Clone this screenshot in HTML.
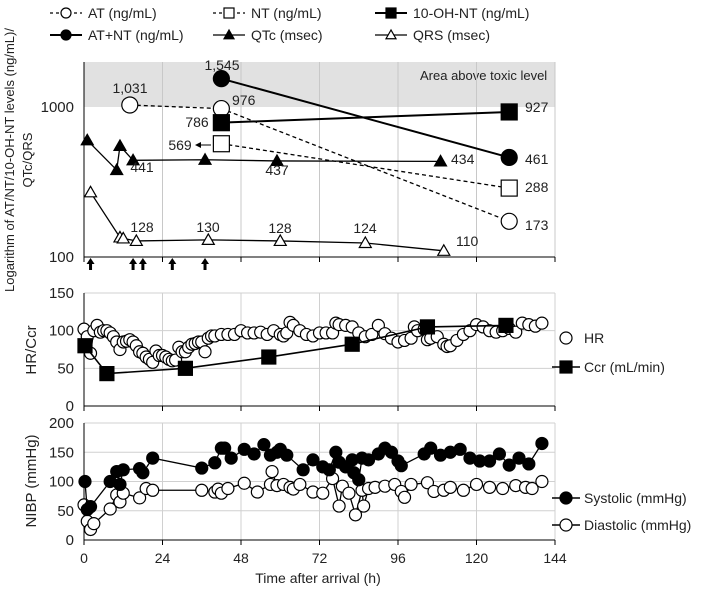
<!DOCTYPE html>
<html><head><meta charset="utf-8"><style>
body{margin:0;background:#fff;}
svg{display:block;font-family:"Liberation Sans",sans-serif;}
</style></head><body>
<svg id="c" width="709" height="592" xmlns="http://www.w3.org/2000/svg"></svg>
<script>
const hours=[0,24,48,72,96,120,144];
const atH=[14,42,130], atV=[1031,976,173];
const ntH=[42,130], ntV=[569,288];
const ohH=[42,130], ohV=[786,927];
const sumH=[42,130], sumV=[1545,461];
const qtcH=[1,10,11,15,37,59,109], qtcV=[600,380,550,441,445,437,434];
const qrsH=[2,11,12,16,38,60,86,110], qrsV=[270,135,133,128,130,128,124,110];
const arrowH=[2,15,18,27,37];
const ccrH=[0.3,7,31,56.5,82,105,129], ccrV=[80,43,50,65,82,105,107];
const hrH=[0,1,2,3,4,5,6,7,8,9,10,11,12,13,14,15,16,17,18,19,20,21,22,23,24,25,26,27,28,29,30,31,32,33,34,35,36,37,38,39,40,42,44,46,48,50,52,54,56,58,60,61,62,63,64,66,68,70,72,74,76,77,78,80,82,84,86,88,90,92,94,96,98,100,101,102,104,105,106,108,110,111,112,114,116,118,120,122,124,126,128,130,132,134,136,138,140];
const hrV=[102,92,70,100,107,98,100,100,97,92,85,75,85,86,88,85,80,72,70,65,62,58,73,67,67,65,62,60,61,78,72,72,78,82,83,85,85,72,90,93,93,95,95,95,100,97,97,98,95,100,95,93,97,111,107,100,95,93,97,97,97,110,108,107,105,97,92,95,107,96,90,85,87,90,105,100,102,88,90,92,82,79,80,87,95,100,108,105,100,98,100,103,98,110,108,106,110];
const sysH=[0.3,1,2,8,10,11,12,17,18,21,36,40,42,43,45,49,52,55,57,59,60,62,67,70,73,75,77,78,80,82,82.5,84,85,87,90,92,94,96,97,104,106,109,112,115,118,121,124,127,130,133,136,140];
const sysV=[100,52,57,100,117,95,120,122,115,140,123,132,157,157,140,155,147,163,145,150,155,145,120,137,125,120,150,133,125,137,115,103,140,137,147,157,150,135,127,147,157,145,150,155,140,135,135,147,128,140,130,165];
const diaH=[0,1,2,3,8,10,11,12,17,19,21,36,40,41,42,44,49,53,57,57.5,59,61,63,64,66,70,73,76,78,79,81,83,85,85.5,87,89,92,95,97,98,100,105,107,110,112,116,120,124,128,132,135,137,140];
const diaV=[60,32,18,28,53,77,65,80,72,88,85,85,82,87,80,88,97,82,95,117,93,95,90,87,95,82,80,105,58,92,80,43,85,58,88,90,92,95,83,73,95,98,83,85,90,85,95,90,88,93,90,88,100];
const yTopTicks=[100,1000], yMidTicks=[0,50,100,150], yBotTicks=[0,50,100,150,200];

const NS="http://www.w3.org/2000/svg", svg=document.getElementById('c');
function el(t,a,p){const e=document.createElementNS(NS,t);for(const k in a)e.setAttribute(k,a[k]);(p||svg).appendChild(e);return e;}
function tx(s,x,y,o,p){const e=el('text',Object.assign({x:x,y:y,'font-size':13,fill:'#222'},o||{}),p);e.textContent=s;return e;}
const X0=84,X1=555;
const x=h=>X0+h*(X1-X0)/144;
const yT=v=>257-150*(Math.log10(v)-2);
const yM=v=>406-v*(406-293)/150;
const yB=v=>540-v*(540-423)/200;

function marker(g,type,cx,cy,s,fill){
  let e;
  if(type==='c')e=el('circle',{cx:cx,cy:cy,r:s,fill:fill,stroke:'#000','stroke-width':1.2},g);
  else if(type==='s')e=el('rect',{x:cx-s,y:cy-s,width:2*s,height:2*s,fill:fill,stroke:'#000','stroke-width':1.2},g);
  else e=el('polygon',{points:`${cx},${cy-s} ${cx-s},${cy+s*0.75} ${cx+s},${cy+s*0.75}`,fill:fill,stroke:'#000','stroke-width':1.2},g);
  return e;
}
function series(name,H,V,yf,type,s,fill,dash,lw){
  const g=el('g',{});
  
  
  el('polyline',{points:H.map((h,i)=>x(h)+','+yf(V[i])).join(' '),fill:'none',stroke:'#000','stroke-width':lw||1.3,'stroke-dasharray':dash||''},g);
  H.forEach((h,i)=>{const m=marker(g,type,x(h),yf(V[i]),s,fill);
    
    });
}

// top panel
el('rect',{x:X0,y:62,width:X1-X0,height:yT(1000)-62,fill:'#e1e1e1'});
tx('Area above toxic level',420,80,{'font-size':13});
hours.slice(1).forEach(h=>el('line',{x1:x(h),y1:62,x2:x(h),y2:257,stroke:'#c8c8c8'}));
el('line',{x1:X0,y1:62,x2:X0,y2:257,stroke:'#000'});
el('line',{x1:X0,y1:257,x2:X1,y2:257,stroke:'#000'});
hours.forEach(h=>el('line',{x1:x(h),y1:257,x2:x(h),y2:262,stroke:'#000'}));
yTopTicks.forEach(v=>tx(String(v),74,yT(v)+5,{'text-anchor':'end','font-size':15}));
arrowH.forEach(h=>{const g=el('g',{});
 el('line',{x1:x(h),y1:270,x2:x(h),y2:262,stroke:'#000','stroke-width':3},g);
 el('polygon',{points:`${x(h)-4},${264} ${x(h)+4},${264} ${x(h)},${258}`,fill:'#000'},g);});
series('qrs-series',qrsH,qrsV,yT,'t',6,'#fff');
series('qtc-series',qtcH,qtcV,yT,'t',6,'#000');
series('at-series',atH,atV,yT,'c',8,'#fff','4,3');
series('nt-series',ntH,ntV,yT,'s',8,'#fff','4,3');
series('oh-nt-series',ohH,ohV,yT,'s',8,'#000','',2);
series('at-nt-series',sumH,sumV,yT,'c',8,'#000','',2);
const ann=[['1,031',130,93,'middle'],['976',232,105,'start'],['1,545',222,70,'middle'],['786',197,127,'middle'],['927',525,112,'start'],['461',525,164,'start'],['288',525,192,'start'],['173',525,230,'start'],['441',142,172,'middle'],['437',277,175,'middle'],['434',451,164,'start'],['128',142,232,'middle'],['130',208,232,'middle'],['128',280,233,'middle'],['124',365,233,'middle'],['110',456,246,'start']];
ann.forEach(a=>{const t=tx(a[0],a[1],a[2],{'text-anchor':a[3],'font-size':14});});
tx('569',180,150,{'text-anchor':'middle','font-size':14});
el('line',{x1:200,y1:145,x2:211,y2:145,stroke:'#000'});
el('polygon',{points:'195,145 201,142 201,148',fill:'#000'});

// middle
[50,100,150].forEach(v=>el('line',{x1:X0,y1:yM(v),x2:X1,y2:yM(v),stroke:'#d0d0d0'}));
hours.slice(1).forEach(h=>el('line',{x1:x(h),y1:293,x2:x(h),y2:406,stroke:'#d0d0d0'}));
el('line',{x1:X0,y1:293,x2:X0,y2:406,stroke:'#000'});
el('line',{x1:X0,y1:406,x2:X1,y2:406,stroke:'#000'});
hours.forEach(h=>el('line',{x1:x(h),y1:406,x2:x(h),y2:411,stroke:'#000'}));
yMidTicks.forEach(v=>tx(String(v),74,yM(v)+5,{'text-anchor':'end','font-size':15}));
series('hr-series',hrH,hrV,yM,'c',6,'#fff','',0);
series('ccr-series',ccrH,ccrV,yM,'s',7,'#000','',1.6);

// bottom
[50,100,150,200].forEach(v=>el('line',{x1:X0,y1:yB(v),x2:X1,y2:yB(v),stroke:'#d0d0d0'}));
hours.slice(1).forEach(h=>el('line',{x1:x(h),y1:423,x2:x(h),y2:540,stroke:'#d0d0d0'}));
el('line',{x1:X0,y1:423,x2:X0,y2:540,stroke:'#000'});
el('line',{x1:X0,y1:540,x2:X1,y2:540,stroke:'#000'});
hours.forEach(h=>{el('line',{x1:x(h),y1:540,x2:x(h),y2:545,stroke:'#000'});
 const t=tx(String(h),x(h),563,{'text-anchor':'middle','font-size':14});});
yBotTicks.forEach(v=>tx(String(v),74,yB(v)+5,{'text-anchor':'end','font-size':15}));
series('diastolic-series',diaH,diaV,yB,'c',6,'#fff','',1.3);
series('systolic-series',sysH,sysV,yB,'c',6,'#000','',1.3);

// axis titles
tx('Time after arrival (h)',318,583,{'text-anchor':'middle','font-size':14});
tx('Logarithm of AT/NT/10-OH-NT levels (ng/mL)/',0,0,{'text-anchor':'middle','font-size':13,transform:'translate(14,160) rotate(-90)'});
tx('QTc/QRS',0,0,{'text-anchor':'middle','font-size':13,transform:'translate(32,160) rotate(-90)'});
tx('HR/Ccr',0,0,{'text-anchor':'middle','font-size':15,transform:'translate(36,350) rotate(-90)'});
tx('NIBP (mmHg)',0,0,{'text-anchor':'middle','font-size':15,transform:'translate(36,481) rotate(-90)'});

// legends
function leg(name,lx,ly,type,fill,dash,label,lw){
 const g=el('g',{});
 el('line',{x1:lx,y1:ly,x2:lx+32,y2:ly,stroke:'#000','stroke-width':lw||1.3,'stroke-dasharray':dash||''},g);
 marker(g,type,lx+16,ly,5,fill);
 tx(label,lx+38,ly+5,{'font-size':14},g);
}
leg('legend-at',50,13,'c','#fff','3,3','AT (ng/mL)');
leg('legend-nt',213,13,'s','#fff','3,3','NT (ng/mL)');
leg('legend-oh-nt',375,13,'s','#000','','10-OH-NT (ng/mL)',2);
leg('legend-at-nt',50,35,'c','#000','','AT+NT (ng/mL)',2);
leg('legend-qtc',213,35,'t','#000','','QTc (msec)');
leg('legend-qrs',375,35,'t','#fff','','QRS (msec)');
function leg2(name,lx,ly,type,fill,label,line){
 const g=el('g',{});
 if(line)el('line',{x1:lx-14,y1:ly,x2:lx+14,y2:ly,stroke:'#000','stroke-width':1.5},g);
 marker(g,type,lx,ly,6,fill);
 tx(label,lx+18,ly+5,{'font-size':14},g);
}
leg2('legend-hr',566,338,'c','#fff','HR',false);
leg2('legend-ccr',566,367,'s','#000','Ccr (mL/min)',true);
leg2('legend-systolic',566,498,'c','#000','Systolic (mmHg)',true);
leg2('legend-diastolic',566,525,'c','#fff','Diastolic (mmHg)',true);
</script>
</body></html>
